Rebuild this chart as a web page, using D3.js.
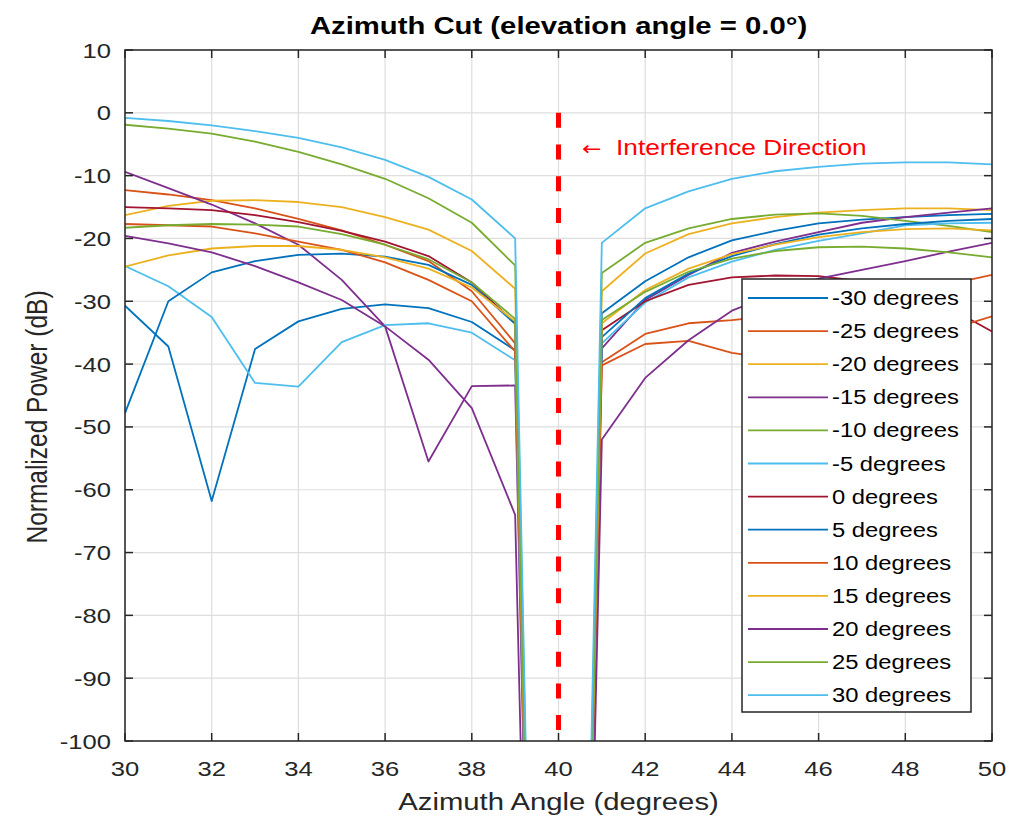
<!DOCTYPE html>
<meta charset="utf-8">

<head>
    <script src="https://d3js.org/d3.v7.min.js"></script>
    <style>
        body {
            margin: 0;
            background: white;
        }
        text {
            font-family: Arial, "Liberation Sans", sans-serif;
            fill: #262626;
        }
    </style>
</head>

<body>
    <div id="chart"></div>

    <script>
        // azimuth angles (degrees) where the pattern was sampled
        var azimuth = [30, 31, 32, 33, 34, 35, 36, 37, 38, 39, 40, 41, 42, 43, 44, 45, 46, 47, 48, 49, 50];

        // normalized power (dB) for each steering elevation
        // the value at 40 is far below the axis (null toward the interferer)
        var s_m30 = [-30.7, -37.2, -61.8, -37.6, -33.2, -31.2, -30.5, -31.1, -33.3, -37.8, -350, -31.9, -26.8, -23.0, -20.3, -18.8, -17.6, -17.0, -16.6, -16.3, -16.1];
        var s_m25 = [-12.3, -13.0, -13.9, -15.2, -16.9, -18.7, -21.0, -23.6, -28.4, -36.7, -350, -39.7, -35.2, -33.5, -33.0, -32.3, -31.3, -30.2, -28.8, -27.3, -25.8];
        var s_m20 = [-16.3, -14.8, -14.0, -13.9, -14.2, -15.0, -16.6, -18.6, -22.0, -28.0, -350, -28.4, -22.4, -19.3, -17.6, -16.6, -15.9, -15.5, -15.2, -15.2, -15.5];
        var s_m15 = [-9.4, -12.0, -14.6, -17.6, -21.0, -26.6, -34.0, -55.5, -43.5, -43.4, -350, -37.5, -29.8, -25.8, -22.3, -20.5, -19.0, -17.5, -16.6, -15.9, -15.2];
        var s_m10 = [-1.9, -2.5, -3.3, -4.6, -6.2, -8.2, -10.5, -13.6, -17.5, -24.3, -350, -25.5, -20.7, -18.4, -16.9, -16.2, -16.0, -16.4, -17.2, -18.0, -19.0];
        var s_m5 = [-24.4, -27.6, -32.5, -43.0, -43.6, -36.5, -33.8, -33.5, -35.0, -39.4, -350, -36.7, -30.2, -26.2, -23.7, -21.8, -20.4, -19.2, -17.9, -17.6, -17.5];
        var s_0 = [-15.0, -15.2, -15.5, -16.3, -17.4, -18.8, -20.5, -22.8, -27.0, -33.5, -350, -34.6, -30.0, -27.4, -26.2, -25.9, -26.0, -26.8, -28.5, -31.0, -34.8];
        var s_5 = [-47.8, -30.0, -25.4, -23.6, -22.6, -22.4, -22.9, -24.2, -27.4, -33.6, -350, -35.7, -29.5, -25.6, -22.8, -20.9, -19.4, -18.4, -17.7, -17.2, -16.9];
        var s_10 = [-17.7, -17.9, -18.1, -19.2, -20.5, -21.8, -23.8, -26.6, -30.0, -38.0, -350, -40.2, -36.8, -36.3, -38.2, -39.2, -39.3, -38.3, -36.7, -34.5, -32.4];
        var s_15 = [-24.5, -22.7, -21.6, -21.2, -21.2, -21.8, -23.0, -24.8, -27.8, -33.2, -350, -33.5, -28.2, -24.8, -22.5, -21.0, -19.8, -19.0, -18.5, -18.4, -18.7];
        var s_20 = [-19.6, -20.8, -22.2, -24.4, -27.0, -29.8, -34.0, -39.3, -47.0, -64.0, -350, -52.0, -42.2, -36.2, -31.5, -28.8, -26.4, -25.0, -23.6, -22.1, -20.7];
        var s_25 = [-18.3, -17.9, -17.7, -17.8, -18.1, -19.3, -21.0, -23.3, -27.0, -32.8, -350, -33.0, -28.5, -25.3, -23.2, -22.0, -21.4, -21.3, -21.6, -22.2, -23.0];
        var s_30 = [-0.8, -1.3, -2.0, -2.9, -4.0, -5.5, -7.5, -10.2, -13.8, -20.0, -350, -20.7, -15.2, -12.5, -10.5, -9.3, -8.6, -8.1, -7.9, -7.9, -8.2];

        var seriesNames = ["-30 degrees", "-25 degrees", "-20 degrees", "-15 degrees", "-10 degrees", "-5 degrees",
            "0 degrees", "5 degrees", "10 degrees", "15 degrees", "20 degrees", "25 degrees", "30 degrees"];
        var seriesValues = [s_m30, s_m25, s_m20, s_m15, s_m10, s_m5, s_0, s_5, s_10, s_15, s_20, s_25, s_30];

        // matlab default colour order (cycles after 7)
        var colorOrder = ["#0072BD", "#D95319", "#EDB120", "#7E2F8E", "#77AC30", "#4DBEEE", "#A2142F"];

        var xTicks = [30, 32, 34, 36, 38, 40, 42, 44, 46, 48, 50];
        var yTicks = [-100, -90, -80, -70, -60, -50, -40, -30, -20, -10, 0, 10];

        // interference marker
        var interfAz = 40;
        var interfTop = 0;
        var interfArrow = "\u2190";
        var interfLabel = " Interference Direction";

        // dimensions
        var width = 1024,
            height = 821;
        var plot = {
            left: 125,
            right: 992,
            top: 50,
            bottom: 741
        };
        // the source picture is a bit wider than tall, so glyphs are stretched sideways
        var sx = 1.22;

        var svg = d3.select("#chart").append("svg")
            .attr("width", width)
            .attr("height", height);

        var x = d3.scaleLinear().domain([30, 50]).range([plot.left, plot.right]);
        var y = d3.scaleLinear().domain([-100, 10]).range([plot.bottom, plot.top]);

        function at(px, py) {
            return "translate(" + px + "," + py + ") scale(" + sx + ",1)";
        }

        // grid
        var grid = svg.append("g");
        grid.selectAll(".gx")
            .data(xTicks)
            .enter().append("line")
            .attr("x1", d => x(d)).attr("x2", d => x(d))
            .attr("y1", plot.top).attr("y2", plot.bottom)
            .attr("stroke", "#dedede")
            .attr("stroke-width", 1.2);
        grid.selectAll(".gy")
            .data(yTicks)
            .enter().append("line")
            .attr("x1", plot.left).attr("x2", plot.right)
            .attr("y1", d => y(d)).attr("y2", d => y(d))
            .attr("stroke", "#dedede")
            .attr("stroke-width", 1.2);

        // clip lines to the axes box
        svg.append("clipPath").attr("id", "clip")
            .append("rect")
            .attr("x", plot.left).attr("y", plot.top)
            .attr("width", plot.right - plot.left)
            .attr("height", plot.bottom - plot.top);

        var line = d3.line()
            .x((d, i) => x(azimuth[i]))
            .y(d => y(d));

        svg.append("g")
            .attr("clip-path", "url(#clip)")
            .selectAll("path")
            .data(seriesValues)
            .enter().append("path")
            .attr("d", line)
            .attr("fill", "none")
            .attr("stroke", (d, i) => colorOrder[i % 7])
            .attr("stroke-width", 1.8)
            .attr("stroke-linejoin", "round");

        // interference direction
        svg.append("line")
            .attr("x1", x(interfAz)).attr("x2", x(interfAz))
            .attr("y1", y(interfTop)).attr("y2", y(-100))
            .attr("stroke", "#FF0000")
            .attr("stroke-width", 5)
            .attr("stroke-dasharray", "15,16.7");

        var itext = svg.append("text")
            .attr("transform", at(582, 155))
            .style("font-size", "21.5px");
        itext.append("tspan")
            .style("fill", "#FF0000")
            .style("font-family", "'DejaVu Sans', sans-serif")
            .style("font-size", "19px")
            .text(interfArrow);
        itext.append("tspan")
            .attr("dx", 6)
            .style("fill", "#FF0000")
            .text(interfLabel);

        // axes box and ticks
        var axisColor = "#262626";
        svg.append("rect")
            .attr("x", plot.left).attr("y", plot.top)
            .attr("width", plot.right - plot.left)
            .attr("height", plot.bottom - plot.top)
            .attr("fill", "none")
            .attr("stroke", axisColor)
            .attr("stroke-width", 1.5);

        var tickLen = 8;
        var ticks = svg.append("g").attr("stroke", axisColor).attr("stroke-width", 1.5);
        xTicks.forEach(function(t) {
            ticks.append("line").attr("x1", x(t)).attr("x2", x(t)).attr("y1", plot.bottom).attr("y2", plot.bottom - tickLen);
            ticks.append("line").attr("x1", x(t)).attr("x2", x(t)).attr("y1", plot.top).attr("y2", plot.top + tickLen);
        });
        yTicks.forEach(function(t) {
            ticks.append("line").attr("x1", plot.left).attr("x2", plot.left + tickLen).attr("y1", y(t)).attr("y2", y(t));
            ticks.append("line").attr("x1", plot.right).attr("x2", plot.right - tickLen).attr("y1", y(t)).attr("y2", y(t));
        });

        svg.append("g").selectAll("text")
            .data(xTicks)
            .enter().append("text")
            .attr("transform", d => at(x(d), plot.bottom + 35))
            .attr("text-anchor", "middle")
            .style("font-size", "21px")
            .text(d => d);

        svg.append("g").selectAll("text")
            .data(yTicks)
            .enter().append("text")
            .attr("transform", d => at(plot.left - 14, y(d) + 7.5))
            .attr("text-anchor", "end")
            .style("font-size", "21px")
            .text(d => d);

        // labels
        svg.append("text")
            .attr("transform", at((plot.left + plot.right) / 2, 34))
            .attr("text-anchor", "middle")
            .style("font-size", "24px")
            .style("font-weight", "bold")
            .style("fill", "#000")
            .text("Azimuth Cut (elevation angle = 0.0\u00b0)");

        svg.append("text")
            .attr("transform", at((plot.left + plot.right) / 2, 810))
            .attr("text-anchor", "middle")
            .style("font-size", "24px")
            .text("Azimuth Angle (degrees)");

        svg.append("text")
            .attr("transform", "translate(47,417) rotate(-90) scale(1," + sx + ")")
            .attr("text-anchor", "middle")
            .style("font-size", "24.5px")
            .text("Normalized Power (dB)");

        // legend
        var leg = {
            x: 742,
            y: 279,
            w: 229,
            h: 433,
            row: 33.1
        };
        var legend = svg.append("g");
        legend.append("rect")
            .attr("x", leg.x).attr("y", leg.y)
            .attr("width", leg.w).attr("height", leg.h)
            .attr("fill", "white")
            .attr("stroke", axisColor)
            .attr("stroke-width", 1.5);

        var rows = legend.selectAll(".row")
            .data(seriesNames)
            .enter().append("g")
            .attr("transform", (d, i) => "translate(0," + (leg.y + 19 + i * leg.row) + ")");
        rows.append("line")
            .attr("x1", leg.x + 6).attr("x2", leg.x + 86)
            .attr("y1", 0).attr("y2", 0)
            .attr("stroke", (d, i) => colorOrder[i % 7])
            .attr("stroke-width", 1.8);
        rows.append("text")
            .attr("transform", at(leg.x + 90, 7))
            .style("font-size", "19.5px")
            .style("fill", "#000")
            .text(d => d);
    </script>
</body>

</html>
